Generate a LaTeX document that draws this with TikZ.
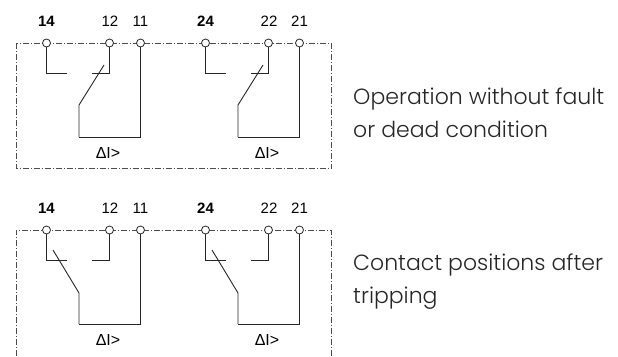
\documentclass[tikz,border=0pt]{standalone}
\usepackage{fontspec}
\setmainfont{Liberation Sans}
\newfontfamily\descfont{Poppins Light}
\begin{document}
\begin{tikzpicture}[x=1pt,y=-1pt,
  term/.style={circle,draw=black!85,fill=white,line width=0.8pt,minimum size=8pt,inner sep=0pt},
  num/.style={font=\fontsize{15}{15}\selectfont,inner sep=0pt,anchor=base},
  boldnum/.style={font=\fontsize{15}{15}\selectfont\bfseries,inner sep=0pt,anchor=base},
  wire/.style={line width=0.9pt,draw=black!85},
  border/.style={line width=0.7pt,draw=black!70,dash pattern=on 6pt off 2pt on 1pt off 2pt},
  desc/.style={font=\descfont\fontsize{22}{22}\selectfont,text=black!85,anchor=base west,inner sep=0pt},
  dil/.style={font=\fontsize{16}{16}\selectfont,inner sep=0pt,anchor=base}]
\useasboundingbox (0,0) rectangle (618,356);
% borders
\draw[border] (16,43) rectangle (331.5,168.5);
\draw[border] (16,356) -- (16,230) -- (331.5,230) -- (331.5,356);
% panel a: normal operation; panel b: after tripping
\foreach \p/\dy in {a/0,b/187}{
  \foreach \g/\dx/\la/\lb/\lc in {1/0/14/12/11,2/159/24/22/21}{
    \node[term] (\p\g o) at (46.5+\dx,43+\dy) {};
    \node[term] (\p\g n) at (109.5+\dx,43+\dy) {};
    \node[term] (\p\g c) at (140.5+\dx,43+\dy) {};
    \node[boldnum] (\p\g lo) at (46.5+\dx,26+\dy) {\la};
    \node[num] (\p\g ln) at (110+\dx,26+\dy) {\lb};
    \node[num] (\p\g lc) at (140.5+\dx,26+\dy) {\lc};
    \coordinate (\p\g oe) at (67+\dx,73+\dy);
    \coordinate (\p\g ne) at (92+\dx,73+\dy);
    \coordinate (\p\g bl) at (79+\dx,137+\dy);
    \draw[wire] (\p\g o) |- (\p\g oe);
    \draw[wire] (\p\g n) |- (\p\g ne);
    \draw[wire] (\p\g bl) -| (\p\g c);
    \node[dil] (\p\g d) at (108+\dx,158+\dy) {ΔI>};
  }
}
% moving contacts
\foreach \g/\dx in {1/0,2/159}{
  \coordinate (a\g pv) at (79+\dx,105);
  \coordinate (a\g tp) at (104+\dx,65);
  \draw[wire] (a\g bl) -- (a\g pv) -- (a\g tp);
  \coordinate (b\g pv) at (79+\dx,106+187);
  \coordinate (b\g tp) at (53+\dx,63+187);
  \draw[wire] (b\g bl) -- (b\g pv) -- (b\g tp);
}
% descriptions
\node[desc] (d1) at (353,104) {Operation without fault};
\node[desc] (d2) at (353,137) {or dead condition};
\node[desc] (d3) at (353,270.5) {Contact positions after};
\node[desc] (d4) at (353,303.5) {tripping};
\end{tikzpicture}
\end{document}
